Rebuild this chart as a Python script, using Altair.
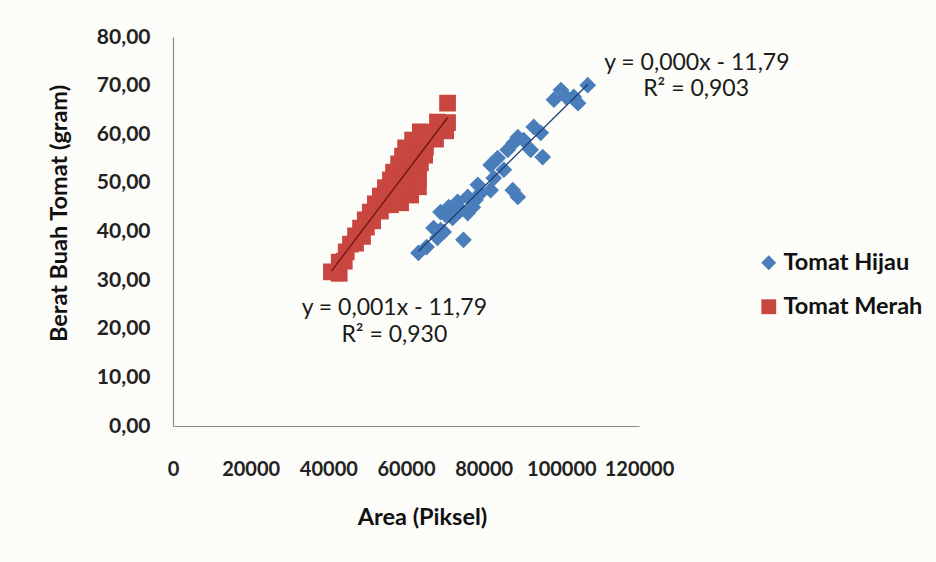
import altair as alt
import pandas as pd

# ---- data ----
red_x = [40800, 42800, 42800, 44100, 44600, 45700, 47000, 47000, 48800, 48300,
         49800, 49500, 51400, 50800, 53400, 52100, 56000, 58600, 53400, 57300,
         61200, 54700, 58600, 63200, 56000, 59900, 63200, 56800, 60600, 63200,
         58100, 61700, 63700, 59100, 62500, 64800, 59900, 63200, 65000, 61700,
         65000, 67600, 63700, 66300, 70200, 68100, 70700, 70700]
red_y = [31.7, 31.4, 33.7, 33.9, 35.8, 37.4, 37.6, 39.1, 39.0, 40.7,
         40.9, 42.4, 42.2, 44.0, 44.2, 45.7, 45.5, 45.9, 47.3, 47.1,
         47.5, 49.0, 48.8, 49.2, 50.6, 50.4, 50.8, 52.2, 52.0, 52.4,
         53.9, 53.7, 54.1, 55.5, 55.3, 55.7, 57.2, 57.0, 57.4, 58.8,
         58.6, 59.0, 60.5, 60.3, 60.7, 62.5, 62.4, 66.4]

blue_x = [63200, 65300, 68100, 69700, 74800, 68900, 71000, 72000, 73300, 75900,
          75900, 77200, 79200, 78500, 81800, 82600, 81800, 83600, 85200, 86200,
          87500, 88800, 87700, 88800, 90300, 92100, 92900, 94700, 95200, 98100,
          99900, 101200, 103200, 104300, 106800,
          67100, 70200, 74100, 77900, 68900]
blue_y = [35.6, 36.8, 38.7, 39.9, 38.3, 44.0, 45.0, 42.8, 46.1, 47.1,
          43.8, 45.0, 47.9, 49.6, 48.5, 51.0, 53.7, 55.1, 52.7, 56.8,
          48.5, 47.1, 58.2, 59.4, 58.8, 56.8, 61.5, 60.3, 55.3, 67.1,
          69.1, 67.7, 67.7, 66.4, 70.1,
          40.7, 43.4, 44.4, 46.5, 40.3]

series_names = ["Tomat Hijau", "Tomat Merah"]
series_colors = ["#4A7EBB", "#C8463F"]
series_shapes = ["diamond", "square"]

eq_text = ["y = 0,000x - 11,79", "R² = 0,903", "y = 0,001x - 11,79", "R² = 0,930"]
eq_x = [134900, 134700, 57000, 57000]
eq_y = [74.6, 69.4, 24.2, 18.8]

x_ticks = [0, 20000, 40000, 60000, 80000, 100000, 120000]
y_ticks = [0, 10, 20, 30, 40, 50, 60, 70, 80]

df = pd.DataFrame({
    "area": blue_x + red_x,
    "berat": blue_y + red_y,
    "series": [series_names[0]] * len(blue_x) + [series_names[1]] * len(red_x),
})
eq_df = pd.DataFrame({"t": eq_text, "x": eq_x, "y": eq_y})

FONT = "Lato"

xscale = alt.Scale(domain=[0, 120000], nice=False, zero=True)
yscale = alt.Scale(domain=[0, 80], nice=False)

x_enc = alt.X("area:Q", scale=xscale, title="Area (Piksel)",
              axis=alt.Axis(values=x_ticks, format="d", grid=False, ticks=False,
                            tickSize=0, labelPadding=33,
                            labelFontSize=20, titleFontSize=23.5,
                            titleX=249, titleY=91, titleAlign="center",
                            titleBaseline="middle",
                            labelFlush=False, labelOverlap=False))
y_enc = alt.Y("berat:Q", scale=yscale, title="Berat Buah Tomat (gram)",
              axis=alt.Axis(values=y_ticks, grid=False, ticks=False, tickSize=0,
                            labelExpr="replace(format(datum.value, '.2f'), '.', ',')",
                            labelPadding=23, labelFontSize=21, titleFontSize=23.5,
                            titleX=-114, titleY=176, titleAngle=270,
                            titleBaseline="middle", titleAlign="center"))

points = alt.Chart(df).mark_point(filled=True, opacity=1, size=280).encode(
    x=x_enc,
    y=y_enc,
    color=alt.Color("series:N", sort=series_names,
                    scale=alt.Scale(domain=series_names, range=series_colors),
                    legend=alt.Legend(title=None, orient="none", legendX=584,
                                      legendY=214)),
    shape=alt.Shape("series:N", sort=series_names,
                    scale=alt.Scale(domain=series_names, range=series_shapes)),
    order=alt.Order("order:Q"),
).transform_calculate(order="datum.series == 'Tomat Merah' ? 1 : 0")

line_blue = alt.Chart(df).transform_filter(
    alt.datum.series == series_names[0]
).transform_regression("area", "berat").mark_line(
    color="#1F3C74", strokeWidth=1.3
).encode(x=alt.X("area:Q", scale=xscale), y=alt.Y("berat:Q", scale=yscale))

line_red = alt.Chart(df).transform_filter(
    alt.datum.series == series_names[1]
).transform_regression("area", "berat").mark_line(
    color="#6E1515", strokeWidth=1.3
).encode(x=alt.X("area:Q", scale=xscale), y=alt.Y("berat:Q", scale=yscale))

eqs = alt.Chart(eq_df).mark_text(font=FONT, fontSize=23, color="#1a1a1a",
                                 align="center", baseline="middle", clip=False).encode(
    x=alt.X("x:Q", scale=xscale), y=alt.Y("y:Q", scale=yscale), text="t:N")

chart = alt.layer(points, line_blue, line_red, eqs).properties(
    width=466, height=389,
    padding={"left": 173, "top": 37, "right": 297, "bottom": 136},
    autosize=alt.AutoSizeParams(type="none"),
    background="#FCFCF8",
).configure_view(stroke=None).configure_axis(
    domainColor="#8C8C8C", domainWidth=1.2,
    labelFont=FONT, labelFontWeight="bold", labelColor="#222222",
    titleFont=FONT, titleFontWeight="bold", titleColor="#111111",
).configure_legend(
    labelFont=FONT, labelFontSize=23.5, labelFontWeight="bold", labelColor="#111111",
    symbolSize=220, symbolStrokeWidth=0, rowPadding=19, labelOffset=3,
    symbolOpacity=1,
)

chart.save("out.html", embed_options={"renderer": "svg", "actions": False})
